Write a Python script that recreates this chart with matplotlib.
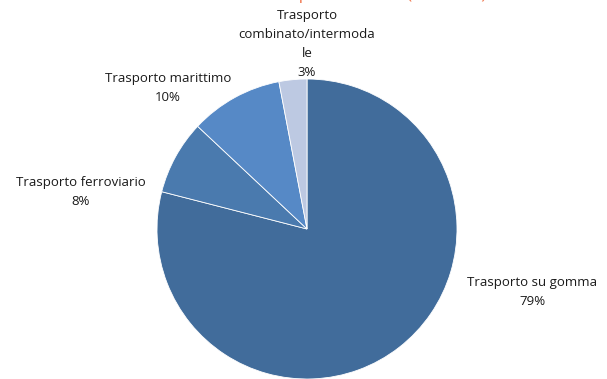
import matplotlib
matplotlib.use('Agg')
import matplotlib.pyplot as plt

# ── data ──────────────────────────────────────────────────────────────────────
labels = ['Trasporto su gomma', 'Trasporto ferroviario',
          'Trasporto marittimo', 'Trasporto\ncombinato/intermoda\nle']
shares = [79, 8, 10, 3]
colors = ['#416C9B', '#4A7AAE', '#5689C6', '#BDC9E2']

# ── figure (pixel-based axes) ─────────────────────────────────────────────────
W, H = 607, 379
fig = plt.figure(figsize=(W / 100, H / 100), dpi=100)
ax = fig.add_axes([0, 0, 1, 1])

cx, cy, r = 307, H - 229, 150
ax.pie(shares, colors=colors, startangle=90, counterclock=False,
       center=(cx, cy), radius=r, frame=True,
       wedgeprops={'edgecolor': 'white', 'linewidth': 0.6})
ax.set_xlim(0, W)
ax.set_ylim(0, H)
ax.set_aspect('equal')
ax.axis('off')

# label positions (pixel coords, y from top)
label_pos = [(532, 292), (81, 192), (168, 88), (307, 44)]
for lab, val, (x, y) in zip(labels, shares, label_pos):
    ax.text(x, H - y, f'{lab}\n{val}%', ha='center', va='center',
            fontsize=9.5, family='Open Sans', color='#1a1a1a', linespacing=1.6)

# slide title, mostly cut off by the top edge
fig.text(186 / W, 1 + 1 / H, 'Distribuzione per modalità (tonn-km)', ha='left',
         va='baseline', fontsize=12.5, color='#F07850', family='Open Sans')

fig.savefig('out.png', dpi=100)
